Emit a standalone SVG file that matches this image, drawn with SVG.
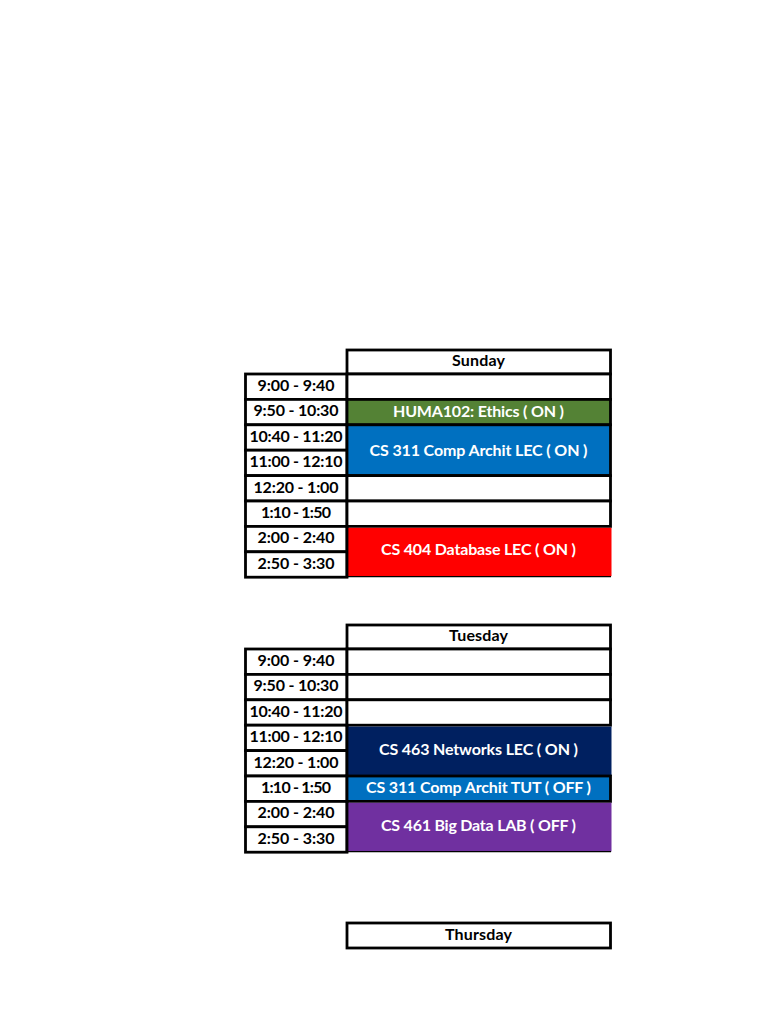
<svg xmlns="http://www.w3.org/2000/svg" width="768" height="1024" viewBox="0 0 768 1024">
<style>
.cell{fill:#FFFFFF;stroke:#000000;stroke-width:2.8}
.t{font-family:Lato,"Liberation Sans",sans-serif;font-weight:bold;font-size:16px;text-anchor:middle;fill:#000000}
.w{font-family:Lato,"Liberation Sans",sans-serif;font-weight:bold;font-size:16px;text-anchor:middle;fill:#FFFFFF}
.thin{stroke:#000000;stroke-width:1.2}
.edge{stroke:#000000;stroke-width:2.8}
</style>
<rect x="0" y="0" width="768" height="1024" fill="#FFFFFF"/>

<!-- SUNDAY -->
<g id="sunday">
  <g id="sun-header"><rect class="cell" x="347" y="350" width="263.5" height="24"/><text class="t" x="478.5" y="366" textLength="53">Sunday</text></g>
  <g id="sun-t1"><rect class="cell" x="245.5" y="374" width="101.5" height="25.4"/><text class="t" x="296" y="391" textLength="77">9:00 - 9:40</text></g>
  <g id="sun-t2"><rect class="cell" x="245.5" y="399.4" width="101.5" height="25.4"/><text class="t" x="296" y="416.4" textLength="85">9:50 - 10:30</text></g>
  <g id="sun-t3"><rect class="cell" x="245.5" y="424.8" width="101.5" height="25.4"/><text class="t" x="296" y="441.8" textLength="93">10:40 - 11:20</text></g>
  <g id="sun-t4"><rect class="cell" x="245.5" y="450.2" width="101.5" height="25.4"/><text class="t" x="296" y="467.2" textLength="93">11:00 - 12:10</text></g>
  <g id="sun-t5"><rect class="cell" x="245.5" y="475.6" width="101.5" height="25.4"/><text class="t" x="296" y="492.6" textLength="85">12:20 - 1:00</text></g>
  <g id="sun-t6"><rect class="cell" x="245.5" y="501" width="101.5" height="25.4"/><text class="t" x="296" y="518" textLength="70">1:10 - 1:50</text></g>
  <g id="sun-t7"><rect class="cell" x="245.5" y="526.4" width="101.5" height="25.4"/><text class="t" x="296" y="543.4" textLength="77">2:00 - 2:40</text></g>
  <g id="sun-t8"><rect class="cell" x="245.5" y="551.8" width="101.5" height="25.4"/><text class="t" x="296" y="568.8" textLength="77">2:50 - 3:30</text></g>

  <g id="sun-c1"><rect class="cell" x="347" y="374" width="263.5" height="25.4"/></g>
  <g id="sun-huma"><rect x="347" y="399.4" width="263.5" height="25.4" fill="#548235" stroke="#000000" stroke-width="2.8"/><text class="w" x="478.5" y="417.4" textLength="171">HUMA102: Ethics ( ON )</text></g>
  <g id="sun-cs311"><rect x="347" y="424.8" width="263.5" height="50.8" fill="#0070C0" stroke="#000000" stroke-width="2.8"/><text class="w" x="478.5" y="455.5" textLength="218">CS 311 Comp Archit LEC ( ON )</text></g>
  <g id="sun-c5"><rect class="cell" x="347" y="475.6" width="263.5" height="25.4"/></g>
  <g id="sun-c6"><rect class="cell" x="347" y="501" width="263.5" height="25.4"/></g>
  <g id="sun-cs404"><rect x="347" y="527.8" width="264.5" height="48.4" fill="#FF0000"/><line class="thin" x1="347" y1="576.6" x2="611" y2="576.6"/><line class="edge" x1="347" y1="526.4" x2="347" y2="577.2"/><text class="w" x="478.5" y="555.3" textLength="195">CS 404 Database LEC ( ON )</text></g>
</g>

<!-- TUESDAY -->
<g id="tuesday">
  <g id="tue-header"><rect class="cell" x="347" y="625" width="263.5" height="24"/><text class="t" x="478.5" y="641" textLength="59">Tuesday</text></g>
  <g id="tue-t1"><rect class="cell" x="245.5" y="649" width="101.5" height="25.4"/><text class="t" x="296" y="666" textLength="77">9:00 - 9:40</text></g>
  <g id="tue-t2"><rect class="cell" x="245.5" y="674.4" width="101.5" height="25.4"/><text class="t" x="296" y="691.4" textLength="85">9:50 - 10:30</text></g>
  <g id="tue-t3"><rect class="cell" x="245.5" y="699.8" width="101.5" height="25.4"/><text class="t" x="296" y="716.8" textLength="93">10:40 - 11:20</text></g>
  <g id="tue-t4"><rect class="cell" x="245.5" y="725.2" width="101.5" height="25.4"/><text class="t" x="296" y="742.2" textLength="93">11:00 - 12:10</text></g>
  <g id="tue-t5"><rect class="cell" x="245.5" y="750.6" width="101.5" height="25.4"/><text class="t" x="296" y="767.6" textLength="85">12:20 - 1:00</text></g>
  <g id="tue-t6"><rect class="cell" x="245.5" y="776" width="101.5" height="25.4"/><text class="t" x="296" y="793" textLength="70">1:10 - 1:50</text></g>
  <g id="tue-t7"><rect class="cell" x="245.5" y="801.4" width="101.5" height="25.4"/><text class="t" x="296" y="818.4" textLength="77">2:00 - 2:40</text></g>
  <g id="tue-t8"><rect class="cell" x="245.5" y="826.8" width="101.5" height="25.4"/><text class="t" x="296" y="843.8" textLength="77">2:50 - 3:30</text></g>

  <g id="tue-c1"><rect class="cell" x="347" y="649" width="263.5" height="25.4"/></g>
  <g id="tue-c2"><rect class="cell" x="347" y="674.4" width="263.5" height="25.4"/></g>
  <g id="tue-c3"><rect class="cell" x="347" y="699.8" width="263.5" height="25.4"/></g>
  <g id="tue-cs463"><rect x="347" y="726.6" width="264.5" height="49.4" fill="#002060"/><line class="edge" x1="347" y1="725.2" x2="347" y2="776"/><text class="w" x="478.5" y="755.3" textLength="199">CS 463 Networks LEC ( ON )</text></g>
  <g id="tue-cs311"><rect x="347" y="776" width="263.5" height="25.4" fill="#0070C0" stroke="#000000" stroke-width="2.8"/><text class="w" x="478.5" y="792.6" textLength="225">CS 311 Comp Archit TUT ( OFF )</text></g>
  <g id="tue-cs461"><rect x="347" y="802.8" width="264.5" height="48.8" fill="#7030A0"/><line class="thin" x1="347" y1="851.6" x2="611" y2="851.6"/><line class="edge" x1="347" y1="801.4" x2="347" y2="852.2"/><text class="w" x="478.5" y="831.2" textLength="195">CS 461 Big Data LAB ( OFF )</text></g>
</g>

<!-- THURSDAY -->
<g id="thursday">
  <g id="thu-header"><rect class="cell" x="347" y="923" width="263.5" height="25"/><text class="t" x="478.5" y="940" textLength="67">Thursday</text></g>
</g>
</svg>
